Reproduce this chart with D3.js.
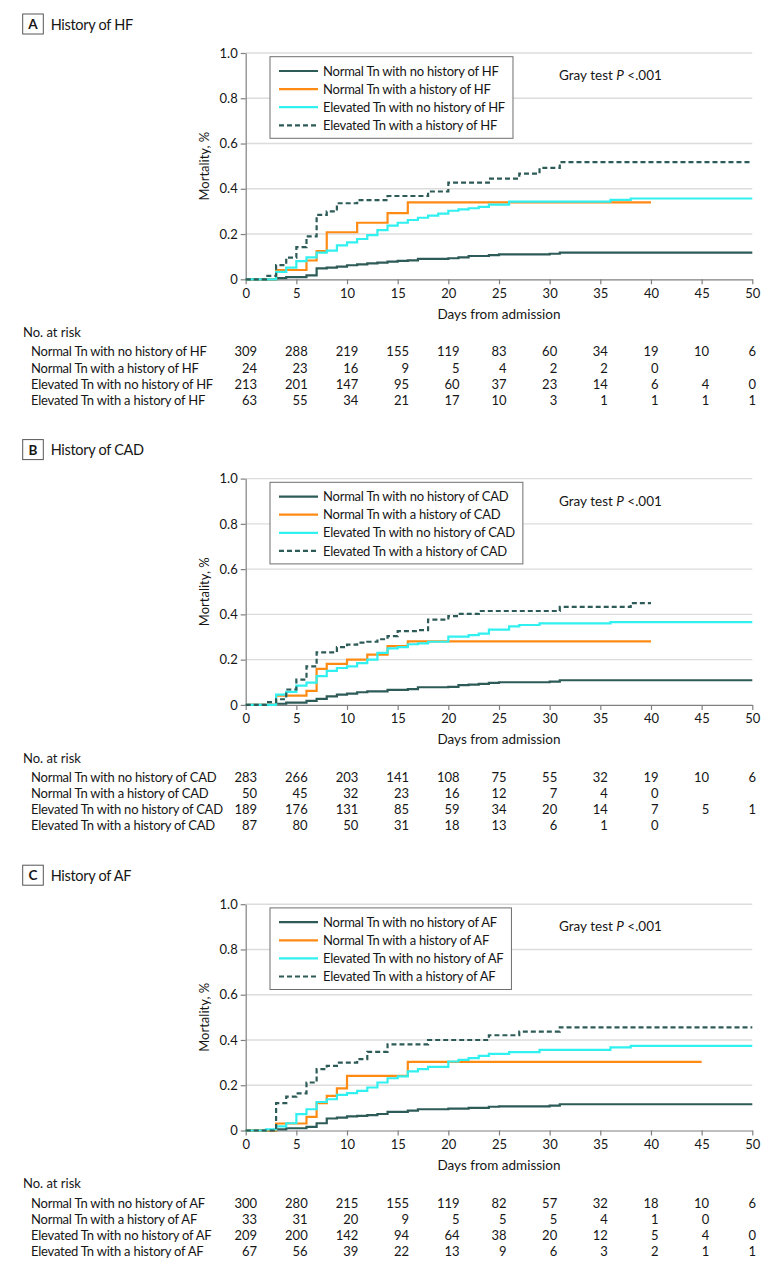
<!DOCTYPE html>
<html><head><meta charset="utf-8">
<script src="https://cdn.jsdelivr.net/npm/d3@7"></script>
<style>
body{margin:0;background:#fff}
svg{display:block}
text{font-family:Lato,"Open Sans",sans-serif;fill:#161616}
.lbl{letter-spacing:-0.23px}
</style>
</head><body>
<svg id="chart" width="783" height="1277"></svg>
<script>
// ---------- data ----------
const days = [0, 5, 10, 15, 20, 25, 30, 35, 40, 45, 50];
const yTicks = [0, 0.2, 0.4, 0.6, 0.8, 1.0];
const panelLetters = ["A", "B", "C"];
const conditions = ["HF", "CAD", "AF"];
const groupPrefixes = [
  "Normal Tn with no history of",
  "Normal Tn with a history of",
  "Elevated Tn with no history of",
  "Elevated Tn with a history of"
];
const grayTestP = ["<.001", "<.001", "<.001"];

// Panel A – History of HF : [day, cumulative mortality]
const hfNormalNo = [[0,0],[3,0.005],[4,0.01],[6,0.017],[7,0.048],[8,0.052],[9,0.056],[10,0.062],[11,0.066],[12,0.07],[13,0.074],[14,0.078],[15,0.081],[16,0.084],[17,0.09],[20,0.093],[21,0.097],[22,0.103],[24,0.107],[25,0.11],[30,0.113],[31,0.118],[50,0.118]];
const hfNormalHx = [[0,0],[3,0.041],[6,0.083],[7,0.125],[8,0.208],[11,0.25],[14,0.292],[16,0.34],[40,0.34]];
const hfElevNo = [[0,0],[3,0.033],[4,0.052],[5,0.08],[6,0.097],[7,0.118],[8,0.127],[9,0.15],[10,0.163],[11,0.178],[12,0.195],[13,0.217],[14,0.237],[15,0.25],[16,0.262],[17,0.272],[18,0.281],[19,0.29],[20,0.303],[21,0.309],[22,0.314],[23,0.32],[24,0.33],[26,0.343],[36,0.351],[38,0.357],[50,0.357]];
const hfElevHx = [[0,0],[2,0.015],[3,0.063],[4,0.096],[5,0.142],[6,0.19],[7,0.285],[8,0.3],[9,0.336],[11,0.35],[14,0.368],[18,0.388],[20,0.427],[24,0.445],[27,0.467],[29,0.492],[31,0.518],[50,0.518]];

// Panel B – History of CAD
const cadNormalNo = [[0,0],[3,0.005],[4,0.01],[6,0.018],[7,0.027],[8,0.038],[9,0.045],[10,0.05],[11,0.056],[12,0.06],[14,0.066],[16,0.07],[17,0.078],[20,0.08],[21,0.087],[22,0.09],[23,0.093],[24,0.097],[25,0.1],[30,0.103],[31,0.109],[50,0.109]];
const cadNormalHx = [[0,0],[3,0.041],[6,0.062],[7,0.159],[8,0.181],[10,0.2],[12,0.222],[14,0.26],[16,0.281],[40,0.281]];
const cadElevNo = [[0,0],[3,0.045],[4,0.058],[5,0.085],[6,0.098],[7,0.127],[8,0.15],[9,0.163],[10,0.17],[11,0.185],[12,0.2],[13,0.23],[14,0.25],[15,0.255],[16,0.268],[17,0.272],[18,0.279],[20,0.302],[22,0.308],[23,0.315],[24,0.333],[26,0.347],[27,0.353],[29,0.36],[36,0.366],[50,0.366]];
const cadElevHx = [[0,0],[2,0.012],[3,0.025],[4,0.068],[5,0.112],[6,0.17],[7,0.232],[9,0.255],[10,0.266],[11,0.275],[12,0.279],[13,0.29],[14,0.304],[15,0.326],[17,0.33],[18,0.377],[20,0.392],[21,0.402],[23,0.415],[31,0.433],[38,0.45],[40,0.45]];

// Panel C – History of AF
const afNormalNo = [[0,0],[3,0.005],[4,0.01],[6,0.016],[7,0.032],[8,0.053],[9,0.057],[10,0.062],[11,0.065],[12,0.068],[13,0.073],[14,0.082],[16,0.088],[17,0.094],[20,0.097],[22,0.1],[24,0.105],[25,0.107],[30,0.11],[31,0.116],[50,0.116]];
const afNormalHx = [[0,0],[3,0.031],[6,0.06],[7,0.121],[8,0.153],[9,0.186],[10,0.241],[16,0.303],[45,0.303]];
const afElevNo = [[0,0],[2,0.005],[3,0.018],[4,0.032],[5,0.072],[6,0.094],[7,0.126],[8,0.138],[9,0.157],[10,0.165],[11,0.175],[12,0.19],[13,0.212],[14,0.231],[15,0.239],[16,0.261],[17,0.271],[18,0.281],[20,0.305],[21,0.312],[22,0.32],[23,0.33],[24,0.339],[26,0.346],[29,0.356],[36,0.367],[38,0.374],[50,0.374]];
const afElevHx = [[0,0],[3,0.121],[4,0.15],[5,0.164],[6,0.212],[7,0.271],[8,0.286],[9,0.3],[11,0.315],[12,0.347],[14,0.381],[18,0.4],[24,0.421],[27,0.437],[31,0.456],[50,0.456]];

// Numbers at risk (one value per day tick; missing = blank)
const hfRiskNormalNo = [309,288,219,155,119,83,60,34,19,10,6];
const hfRiskNormalHx = [24,23,16,9,5,4,2,2,0];
const hfRiskElevNo   = [213,201,147,95,60,37,23,14,6,4,0];
const hfRiskElevHx   = [63,55,34,21,17,10,3,1,1,1,1];
const cadRiskNormalNo = [283,266,203,141,108,75,55,32,19,10,6];
const cadRiskNormalHx = [50,45,32,23,16,12,7,4,0];
const cadRiskElevNo   = [189,176,131,85,59,34,20,14,7,5,1];
const cadRiskElevHx   = [87,80,50,31,18,13,6,1,0];
const afRiskNormalNo = [300,280,215,155,119,82,57,32,18,10,6];
const afRiskNormalHx = [33,31,20,9,5,5,5,4,1,0];
const afRiskElevNo   = [209,200,142,94,64,38,20,12,5,4,0];
const afRiskElevHx   = [67,56,39,22,13,9,6,3,2,1,1];

const panelCurves = [
  [hfNormalNo, hfNormalHx, hfElevNo, hfElevHx],
  [cadNormalNo, cadNormalHx, cadElevNo, cadElevHx],
  [afNormalNo, afNormalHx, afElevNo, afElevHx]
];
const panelRisk = [
  [hfRiskNormalNo, hfRiskNormalHx, hfRiskElevNo, hfRiskElevHx],
  [cadRiskNormalNo, cadRiskNormalHx, cadRiskElevNo, cadRiskElevHx],
  [afRiskNormalNo, afRiskNormalHx, afRiskElevNo, afRiskElevHx]
];

// ---------- styling / layout ----------
const seriesStyle = [
  {color:"#2d5b57", dash:null},
  {color:"#ff8a14", dash:null},
  {color:"#30f0f0", dash:null},
  {color:"#2d5b57", dash:"5,3"}
];
const panelOffset = 425.6;
const plotLeft = 245.7, plotRight = 752.3, plotTop = 53, plotBottom = 279.3;
const fs = 13;

const svg = d3.select("#chart");
const x = d3.scaleLinear().domain([0,50]).range([plotLeft, plotRight]);
const y = d3.scaleLinear().domain([0,1]).range([plotBottom, plotTop]);
const line = d3.line().x(d=>x(d[0])).y(d=>y(d[1])).curve(d3.curveStepAfter);

panelLetters.forEach((letter, p) => {
  const g = svg.append("g").attr("transform", `translate(0,${p*panelOffset})`);
  const cond = conditions[p];

  // title
  g.append("rect").attr("x",22.7).attr("y",14).attr("width",20.6).attr("height",20)
    .attr("fill","none").attr("stroke","#555").attr("stroke-width",1);
  g.append("text").attr("x",33).attr("y",29).attr("text-anchor","middle")
    .attr("font-weight","bold").attr("font-size",13.5).text(letter);
  g.append("text").attr("x",50.7).attr("y",29.5).attr("font-size",14.5)
    .attr("letter-spacing","-0.3px").text("History of " + cond);

  // gridlines
  g.append("g").selectAll("line").data(yTicks.filter(d=>d>0)).join("line")
    .attr("x1",plotLeft).attr("x2",plotRight)
    .attr("y1",d=>y(d)).attr("y2",d=>y(d))
    .attr("stroke","#dcdcdc").attr("stroke-width",1.4);

  // axes
  const ya = g.append("g").attr("transform",`translate(${plotLeft},0)`)
    .call(d3.axisLeft(y).tickValues(yTicks).tickSize(5).tickSizeOuter(0).tickPadding(3)
      .tickFormat(d=> d===0 ? "0" : d3.format(".1f")(d)));
  const xa = g.append("g").attr("transform",`translate(0,${plotBottom})`)
    .call(d3.axisBottom(x).tickValues(days).tickSize(5).tickSizeOuter(0).tickPadding(4));
  [ya, xa].forEach(a => {
    a.selectAll("path,line").attr("stroke","#808080").attr("stroke-width",1.2);
    a.selectAll("text").attr("font-size",fs).attr("font-family",null).attr("fill","#161616");
  });

  g.append("text").attr("transform",`translate(209,${(plotTop+plotBottom)/2}) rotate(-90)`)
    .attr("text-anchor","middle").attr("font-size",fs).text("Mortality, %");
  g.append("text").attr("x",(plotLeft+plotRight)/2).attr("y",318.5)
    .attr("text-anchor","middle").attr("font-size",13.5).text("Days from admission");

  // curves
  panelCurves[p].forEach((curve, i) => {
    g.append("path").datum(curve).attr("d",line).attr("fill","none")
      .attr("stroke",seriesStyle[i].color).attr("stroke-width",2.2)
      .attr("stroke-dasharray",seriesStyle[i].dash);
  });

  // legend
  const lg = g.append("g");
  const box = lg.append("rect").attr("x",270).attr("y",56.7).attr("height",81.6)
    .attr("fill","#fff").attr("stroke","#6e6e6e").attr("stroke-width",1);
  let maxEnd = 0;
  groupPrefixes.forEach((pre, i) => {
    const cy = 71 + i*18.1;
    lg.append("line").attr("x1",279).attr("x2",318).attr("y1",cy).attr("y2",cy)
      .attr("stroke",seriesStyle[i].color).attr("stroke-width",2.2)
      .attr("stroke-dasharray",seriesStyle[i].dash);
    const t = lg.append("text").attr("class","lbl").attr("x",323).attr("y",cy+4.7).attr("font-size",fs)
      .text(pre + " " + cond);
    maxEnd = Math.max(maxEnd, 323 + t.node().getComputedTextLength());
  });
  box.attr("width", maxEnd + 8 - 270);

  const gt = g.append("text").attr("x",559).attr("y",80).attr("font-size",13.5);
  gt.append("tspan").text("Gray test ");
  gt.append("tspan").attr("font-style","italic").text("P");
  gt.append("tspan").text(" " + grayTestP[p]);

  // risk table
  g.append("text").attr("x",23).attr("y",337.3).attr("font-size",fs).text("No. at risk");
  const rows = panelRisk[p];
  const rowY = i => 351.7 + i*16.1 + 4.7;
  groupPrefixes.forEach((pre, i) => {
    g.append("text").attr("class","lbl").attr("x",31).attr("y",rowY(i)).attr("font-size",fs).text(pre + " " + cond);
  });
  days.forEach((d, j) => {
    const cells = [];
    rows.forEach((r, i) => {
      if (r[j] === undefined) return;
      cells.push(g.append("text").attr("y",rowY(i)).attr("font-size",fs)
        .attr("text-anchor","end").text(r[j]));
    });
    const w = d3.max(cells, c => c.node().getComputedTextLength());
    cells.forEach(c => c.attr("x", x(d) + w/2));
  });
});
</script>
</body></html>
